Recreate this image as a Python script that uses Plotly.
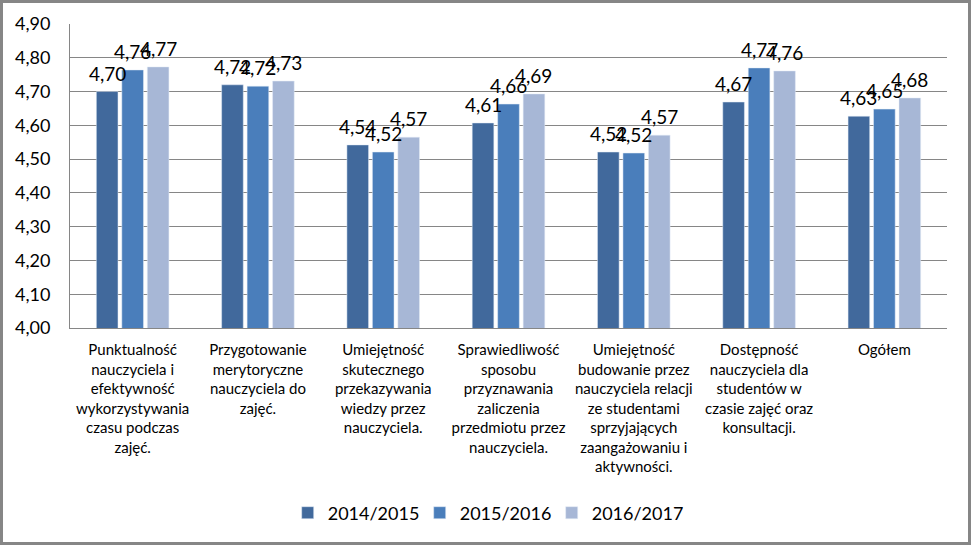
import plotly.graph_objects as go

categories = [
    "Punktualność<br>nauczyciela i<br>efektywność<br>wykorzystywania<br>czasu podczas<br>zajęć.",
    "Przygotowanie<br>merytoryczne<br>nauczyciela do<br>zajęć.",
    "Umiejętność<br>skutecznego<br>przekazywania<br>wiedzy przez<br>nauczyciela.",
    "Sprawiedliwość<br>sposobu<br>przyznawania<br>zaliczenia<br>przedmiotu przez<br>nauczyciela.",
    "Umiejętność<br>budowanie przez<br>nauczyciela relacji<br>ze studentami<br>sprzyjających<br>zaangażowaniu i<br>aktywności.",
    "Dostępność<br>nauczyciela dla<br>studentów w<br>czasie zajęć oraz<br>konsultacji.",
    "Ogółem",
]
series_names = ["2014/2015", "2015/2016", "2016/2017"]
v2014 = [4.700, 4.720, 4.542, 4.607, 4.521, 4.669, 4.627]
v2015 = [4.764, 4.716, 4.521, 4.663, 4.518, 4.770, 4.648]
v2016 = [4.773, 4.731, 4.565, 4.693, 4.571, 4.761, 4.681]
colors = ["#41699C", "#4A7EBB", "#A7B7D6"]
yticks = [4.0, 4.1, 4.2, 4.3, 4.4, 4.5, 4.6, 4.7, 4.8, 4.9]

FONT = "Lato, Open Sans, sans-serif"
W, H = 971, 545
l, r, t, b = 70, 24, 24, 217
pw, ph = W - l - r, H - t - b
BARGAP, GROUPGAP = 0.39, 0.15
slot = pw / len(categories) * (1 - BARGAP) / 3

def px(x):
    return (x - l) / pw

def py(y):
    return (H - b - y) / ph

xs = list(range(len(categories)))
fig = go.Figure()
annotations = []
for i, (name, vals, col) in enumerate(zip(series_names, [v2014, v2015, v2016], colors)):
    fig.add_trace(go.Bar(x=xs, y=vals, name=name, marker_color=col))
    for xv, yv in zip(xs, vals):
        annotations.append(dict(
            x=xv, y=yv, xref="x", yref="y", text=f"{yv:.2f}".replace(".", ","),
            showarrow=False, xanchor="center", yanchor="bottom",
            xshift=(i - 1) * slot, yshift=5,
            font=dict(size=19, color="black", family=FONT),
        ))

fig.update_layout(
    width=W, height=H,
    margin=dict(l=l, r=r, t=t, b=b, pad=0),
    paper_bgcolor="white", plot_bgcolor="white",
    separators=", ",
    barmode="group", bargap=BARGAP, bargroupgap=GROUPGAP,
    font=dict(family=FONT, color="black"),
    showlegend=True,
    legend=dict(orientation="h", x=0.474, xanchor="center", y=py(513), yanchor="middle",
                font=dict(size=18), itemwidth=30, traceorder="normal",
                entrywidth=87, entrywidthmode="pixels"),
    xaxis=dict(
        tickmode="array", tickvals=xs, ticktext=categories,
        range=[-0.5, 6.5], showgrid=False, ticks="", showline=True,
        linecolor="#868686", linewidth=1, ticklabelstandoff=8,
        tickfont=dict(size=15), tickangle=0,
    ),
    yaxis=dict(
        range=[4.0, 4.9], tickmode="array", tickvals=yticks, tickformat=".2f",
        showgrid=True, gridcolor="#868686", gridwidth=1,
        showline=True, linecolor="#868686", linewidth=1,
        ticks="", ticklabelstandoff=15,
        tickfont=dict(size=18), zeroline=False,
    ),
    annotations=annotations,
    shapes=[dict(type="rect", xref="paper", yref="paper",
                 x0=px(1.5), x1=px(969.5), y0=py(543.5), y1=py(1.5),
                 line=dict(color="#868686", width=3), fillcolor="rgba(0,0,0,0)")],
)
fig.write_html("out.html", config={"displayModeBar": False},
               post_script="document.body.style.margin='0';document.body.style.overflow='hidden';")
